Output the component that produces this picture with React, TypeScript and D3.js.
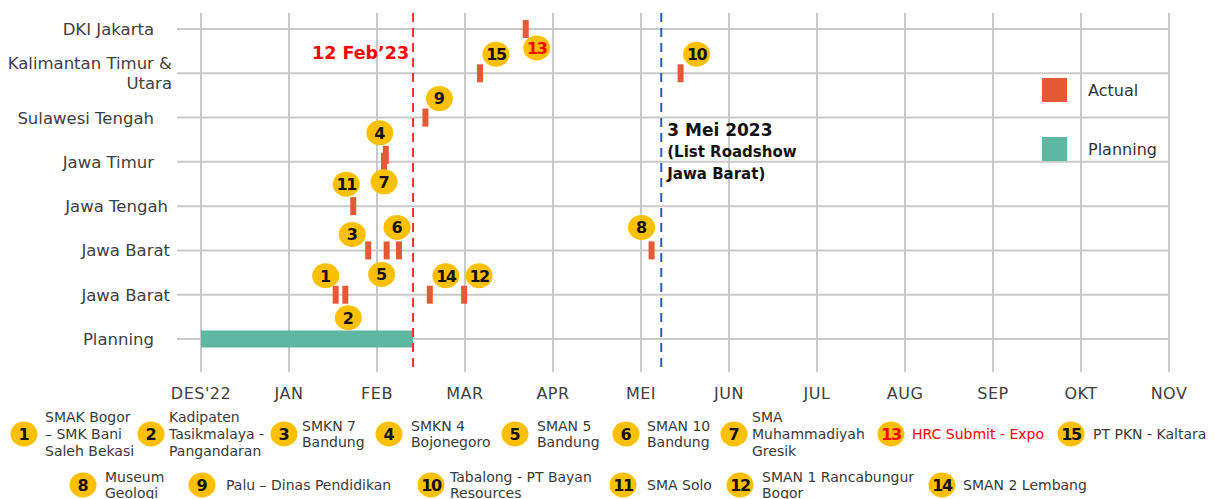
import React from 'react';
import * as d3 from 'd3';

// ---- data ----
const months = ["DES'22", 'JAN', 'FEB', 'MAR', 'APR', 'MEI', 'JUN', 'JUL', 'AUG', 'SEP', 'OKT', 'NOV'];
const rowLabels = ['DKI Jakarta', 'Kalimantan Timur &|Utara', 'Sulawesi Tengah', 'Jawa Timur', 'Jawa Tengah', 'Jawa Barat', 'Jawa Barat', 'Planning'];

// month position (0 = DES'22) and row of every "Actual" event
const eventIds = [1, 2, 3, 4, 5, 6, 7, 8, 9, 10, 11, 12, 13, 14, 15];
const eventRows = [6, 6, 5, 3, 5, 5, 3, 5, 2, 1, 4, 6, 0, 6, 1];
const eventMonths = [1.53, 1.64, 1.9, 2.1, 2.11, 2.25, 2.08, 5.12, 2.55, 5.45, 1.73, 2.99, 3.69, 2.6, 3.17];

const planningStart = 0;
const planningEnd = 2.41;
const cutoffMonth = 2.41; // 12 Feb'23
const roadshowMonth = 5.23; // 3 Mei 2023

const legendIds = [1, 2, 3, 4, 5, 6, 7, 13, 15, 8, 9, 10, 11, 12, 14];
const legendLabels = [
  'SMAK Bogor|– SMK Bani|Saleh Bekasi',
  'Kadipaten|Tasikmalaya -|Pangandaran',
  'SMKN 7|Bandung',
  'SMKN 4|Bojonegoro',
  'SMAN 5|Bandung',
  'SMAN 10|Bandung',
  'SMA|Muhammadiyah|Gresik',
  'HRC Submit - Expo',
  'PT PKN - Kaltara',
  'Museum|Geologi',
  'Palu – Dinas Pendidikan',
  'Tabalong - PT Bayan|Resources',
  'SMA Solo',
  'SMAN 1 Rancabungur|Bogor',
  'SMAN 2 Lembang',
];

// ---- layout ----
const W = 1215;
const H = 499;
const font = "'DejaVu Sans', sans-serif";
const grid = '#c9c9c9';
const actualColor = '#e35b35';
const planColor = '#5db8a2';
const badgeColor = '#fdc000';

// badge offset from its bar, and small bar shift
const badgeDx: Record<number, number> = { 1: -10, 2: 3, 3: -16, 4: -6, 5: -5, 6: -2, 7: 0, 8: -10, 9: 14, 10: 16, 11: -7, 12: 15, 13: 11, 14: 16, 15: 16 };
const badgeDy: Record<number, number> = { 1: -19, 2: 23, 3: -16, 4: -29, 5: 24, 6: -23, 7: 20, 8: -23, 9: -19, 10: -19, 11: -22, 12: -19, 13: 19, 14: -19, 15: -19 };
const barDy: Record<number, number> = { 4: -7 };
const labelRight = [154, 172, 154, 154, 168, 170, 170, 154];

const legendBadgeX = [24, 151, 284, 389, 515, 626, 734, 891, 1071, 83, 202, 431, 623, 740, 942];
const legendTextX = [45, 169, 302, 411, 537, 647, 752, 912, 1093, 105, 226, 450, 647, 762, 963];
const legendRowY = [434, 434, 434, 434, 434, 434, 434, 434, 434, 485, 485, 485, 485, 485, 485];

const x = d3.scaleLinear().domain([0, months.length - 1]).range([201, 1169]);
const y = d3.scalePoint<number>().domain(d3.range(rowLabels.length)).range([29, 339]);

const gridTop = 13;
const gridBottom = 372;

const Badge = ({ cx, cy, n }: { cx: number; cy: number; n: number }) => (
  <g>
    <ellipse cx={cx} cy={cy} rx={13.5} ry={12.5} fill={badgeColor} />
    <text x={cx} y={cy} dy="0.37em" textAnchor="middle" fontFamily={font} fontWeight="bold" fontSize={16}
      fill={n === 13 ? '#ff0000' : '#111'} letterSpacing={n > 9 ? -1.5 : 0}>{n}</text>
  </g>
);

export default function App() {
  return (
    <svg width={W} height={H} style={{ position: 'absolute', left: 0, top: 0, background: '#fff' }}>
      {/* vertical grid */}
      {months.map((m, i) => (
        <line key={'v' + i} x1={x(i)} x2={x(i)} y1={gridTop} y2={gridBottom} stroke={grid} strokeWidth={2} />
      ))}
      {/* horizontal grid */}
      {rowLabels.map((_, i) => (
        <line key={'h' + i} x1={177} x2={x(months.length - 1)} y1={y(i)} y2={y(i)} stroke={grid} strokeWidth={2} />
      ))}
      {/* row labels */}
      {rowLabels.map((lab, i) => {
        const lines = lab.split('|');
        return (
          <text key={'l' + i} x={labelRight[i]} y={y(i)!} textAnchor="end" fontFamily={font} fontSize={16.5} fill="#404040">
            {lines.map((ln, j) => (
              <tspan key={j} x={labelRight[i]} dy={j === 0 ? `${0.36 - (lines.length - 1) * 0.6}em` : '1.2em'}>{ln}</tspan>
            ))}
          </text>
        );
      })}
      {/* month labels */}
      {months.map((m, i) => (
        <text key={'m' + i} x={x(i)} y={399} textAnchor="middle" fontFamily={font} fontSize={16} fill="#404040" letterSpacing={0.5}>{m}</text>
      ))}
      {/* planning bar */}
      <rect x={x(planningStart)} y={y(7)! - 8.5} width={x(planningEnd) - x(planningStart)} height={17} fill={planColor} />
      {/* actual bars */}
      {eventIds.map((id, i) => (
        <rect key={'b' + id} x={x(eventMonths[i]) - 3} y={y(eventRows[i])! - 9 + (barDy[id] || 0)} width={6} height={18} fill={actualColor} />
      ))}
      {/* reference lines */}
      <line x1={x(cutoffMonth)} x2={x(cutoffMonth)} y1={gridTop} y2={gridBottom} stroke="#ff2b2b" strokeWidth={2} strokeDasharray="9,6" />
      <line x1={x(roadshowMonth)} x2={x(roadshowMonth)} y1={gridTop} y2={gridBottom} stroke="#2d5cc2" strokeWidth={2} strokeDasharray="9,6" />
      <text x={x(cutoffMonth) - 4} y={59} textAnchor="end" fontFamily={font} fontWeight="bold" fontSize={17.5} fill="#ff0000">12 Feb’23</text>
      <text x={x(roadshowMonth) + 6} y={136} fontFamily={font} fontWeight="bold" fill="#111">
        <tspan fontSize={17}>3 Mei 2023</tspan>
        <tspan x={x(roadshowMonth) + 6} dy={21} fontSize={15}>(List Roadshow</tspan>
        <tspan x={x(roadshowMonth) + 6} dy={22} fontSize={15}>Jawa Barat)</tspan>
      </text>
      {/* badges */}
      {eventIds.map((id, i) => (
        <Badge key={'g' + id} cx={x(eventMonths[i]) + badgeDx[id]} cy={y(eventRows[i])! + badgeDy[id]} n={id} />
      ))}
      {/* right legend */}
      <rect x={1042} y={78} width={25} height={24} fill={actualColor} />
      <text x={1088} y={96} fontFamily={font} fontSize={16} fill="#333">Actual</text>
      <rect x={1042} y={137} width={25} height={24} fill={planColor} />
      <text x={1088} y={155} fontFamily={font} fontSize={16} fill="#333">Planning</text>
      {/* bottom legend */}
      {legendIds.map((id, i) => {
        const lines = legendLabels[i].split('|');
        const cy = legendRowY[i];
        return (
          <g key={'lg' + id}>
            <Badge cx={legendBadgeX[i]} cy={cy} n={id} />
            <text x={legendTextX[i]} y={cy} fontFamily={font} fontSize={14} fill={id === 13 ? '#ff0000' : '#3a3a3a'}>
              {lines.map((ln, j) => (
                <tspan key={j} x={legendTextX[i]} dy={j === 0 ? `${0.36 - (lines.length - 1) * 0.6}em` : '1.2em'}>{ln}</tspan>
              ))}
            </text>
          </g>
        );
      })}
    </svg>
  );
}
